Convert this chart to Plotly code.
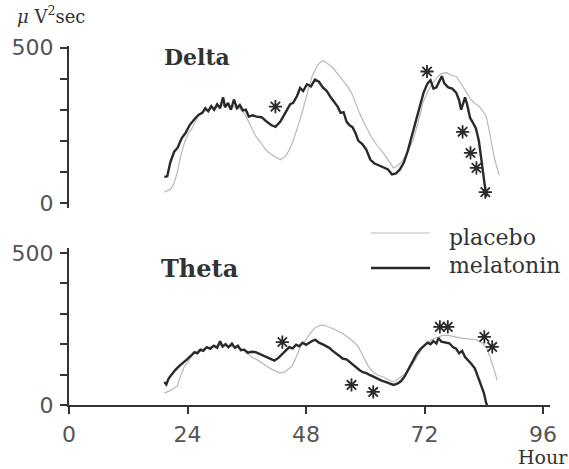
import plotly.graph_objects as go

# ---------------- data ----------------
delta_mel_h = [19.3, 19.9, 20.5, 21.3, 22.0, 22.8, 23.6, 24.4, 25.3, 26.2, 27.0, 27.6, 28.2, 28.8, 29.4, 30.0, 30.6, 31.2, 31.6, 32.2, 32.8, 33.4, 34.0, 34.6, 35.2, 35.8, 36.4, 37.2, 38.0, 39.0, 40.0, 41.0, 41.8, 42.8, 43.8, 44.8, 45.4, 46.2, 46.8, 47.4, 48.2, 49.0, 49.8, 50.6, 51.4, 52.2, 53.0, 53.8, 54.4, 55.0, 55.6, 56.2, 56.8, 57.4, 58.0, 58.6, 59.4, 60.2, 61.0, 61.8, 62.6, 63.6, 64.6, 65.4, 66.2, 67.0, 67.8, 68.6, 69.4, 70.2, 71.0, 71.8, 72.6, 73.2, 73.8, 74.4, 75.0, 75.5, 76.0, 76.8, 77.6, 78.4, 79.0, 79.4, 79.8, 80.2, 80.6, 81.2, 81.8, 82.4, 83.0, 83.6, 84.0, 84.5]
delta_mel_v = [84, 86, 130, 165, 178, 208, 225, 250, 268, 283, 290, 305, 295, 312, 300, 318, 305, 340, 308, 322, 300, 333, 305, 315, 298, 300, 278, 282, 278, 276, 262, 250, 245, 262, 290, 318, 322, 345, 370, 360, 382, 375, 397, 390, 372, 360, 340, 322, 310, 290, 292, 262, 250, 244, 225, 200, 190, 172, 140, 128, 122, 115, 108, 92, 95, 108, 130, 168, 215, 260, 310, 355, 385, 395, 368, 372, 392, 408, 385, 372, 368, 355, 330, 300, 320, 340, 318, 275, 258, 240, 200, 130, 80, 20]

delta_pla_h = [19.3, 19.8, 20.6, 21.2, 21.9, 22.6, 23.4, 24.2, 24.9, 25.6, 26.4, 27.2, 28.2, 29.2, 30.2, 31.2, 32.2, 33.4, 34.6, 35.6, 36.6, 37.8, 38.8, 39.8, 40.8, 41.8, 42.8, 43.8, 44.6, 45.4, 46.2, 47.2, 48.2, 49.2, 50.2, 51.0, 51.6, 52.4, 53.4, 54.4, 55.4, 56.4, 57.2, 58.0, 58.8, 60.0, 61.2, 62.4, 63.7, 64.8, 65.7, 66.6, 67.7, 68.7, 69.7, 70.7, 71.7, 72.7, 73.7, 74.6, 75.4, 76.5, 77.5, 78.5, 79.5, 80.5, 81.3, 82.2, 83.1, 83.8, 84.5, 85.0, 85.5, 86.2, 87.1]
delta_pla_v = [35, 38, 45, 60, 97, 150, 195, 225, 240, 262, 285, 296, 298, 305, 310, 315, 312, 310, 303, 285, 255, 215, 195, 172, 158, 148, 139, 150, 170, 200, 240, 290, 350, 406, 440, 455, 458, 448, 435, 415, 395, 375, 355, 320, 290, 250, 213, 185, 160, 135, 113, 120, 139, 168, 203, 260, 323, 360, 387, 405, 416, 419, 410, 406, 380, 355, 335, 320, 310, 295, 277, 240, 194, 140, 90]

theta_mel_h = [19.3, 19.7, 20.2, 20.7, 21.5, 22.3, 23.1, 23.9, 24.7, 25.4, 26.0, 26.6, 27.2, 27.9, 28.6, 29.3, 30.0, 30.6, 31.1, 31.7, 32.3, 33.0, 33.6, 34.2, 34.8, 35.5, 36.2, 37.0, 37.8, 38.6, 39.4, 40.2, 41.0, 41.6, 42.4, 43.2, 44.0, 44.6, 45.3, 46.0, 46.6, 47.3, 48.0, 48.7, 49.4, 49.9, 50.6, 51.3, 52.0, 52.7, 53.4, 54.1, 54.8, 55.5, 56.2, 56.9, 57.6, 58.3, 58.8, 59.5, 60.2, 61.0, 61.8, 62.5, 63.3, 64.2, 65.0, 65.7, 66.5, 67.2, 68.0, 68.8, 69.6, 70.4, 71.2, 71.9, 72.6, 73.2, 73.8, 74.4, 74.8, 75.4, 76.2, 77.0, 77.8, 78.4, 79.0, 79.6, 80.2, 80.8, 81.5, 82.2, 82.8, 83.4, 84.0, 84.5, 84.7]
theta_mel_v = [76, 68, 88, 99, 115, 128, 138, 150, 162, 174, 170, 182, 178, 190, 185, 195, 188, 210, 192, 200, 190, 202, 188, 195, 180, 182, 172, 175, 174, 168, 162, 155, 150, 146, 155, 168, 180, 190, 186, 198, 193, 205, 198, 205, 212, 214, 205, 200, 195, 188, 178, 170, 162, 152, 150, 140, 132, 122, 115, 108, 105, 98, 92, 85, 80, 75, 70, 66, 70, 78, 95, 118, 145, 168, 185, 195, 205, 200, 210, 202, 220, 208, 205, 203, 190, 185, 170, 178, 158, 148, 135, 120, 95, 70, 40, 5, 0]

theta_pla_h = [19.3, 19.8, 20.6, 21.3, 21.9, 22.6, 23.3, 24.0, 24.8, 25.7, 26.7, 27.8, 29.0, 30.2, 31.4, 32.6, 33.8, 35.0, 36.0, 37.0, 38.0, 39.0, 40.0, 41.0, 42.0, 42.8, 43.6, 44.4, 45.2, 46.2, 47.0, 47.8, 48.8, 49.8, 50.8, 51.6, 52.4, 53.6, 55.2, 56.6, 57.6, 58.6, 59.4, 60.6, 61.6, 62.6, 63.7, 64.7, 65.7, 66.7, 67.6, 68.5, 69.5, 70.5, 71.5, 72.5, 73.5, 74.5, 75.5, 76.5, 77.5, 78.5, 79.5, 80.5, 81.5, 82.5, 83.5, 84.5, 85.2, 85.7, 86.2, 86.7]
theta_pla_v = [39, 42, 48, 55, 62, 95, 125, 140, 160, 175, 183, 188, 192, 195, 196, 194, 190, 183, 170, 158, 150, 138, 128, 118, 110, 105, 108, 118, 128, 165, 195, 210, 235, 253, 262, 263, 258, 250, 237, 222, 208, 191, 165, 128, 108, 98, 92, 82, 76, 88, 98, 108, 132, 158, 185, 204, 215, 222, 228, 230, 226, 222, 220, 218, 216, 214, 205, 191, 160, 138, 110, 82]

delta_star_h = [41.8, 72.5, 79.7, 81.3, 82.5, 84.3]
delta_star_v = [310, 423, 229, 161, 113, 35]
theta_star_h = [43.2, 57.2, 61.6, 75.1, 76.7, 84.1, 85.7]
theta_star_v = [207, 66, 43, 257, 257, 224, 191]

x_ticks = [0, 24, 48, 72, 96]
y_ticks = [0, 100, 200, 300, 400, 500]
y_ticktext = ["0", "", "", "", "", "500"]

# ---------------- figure ----------------
MEL = "#2a2a2a"
PLA = "#b8b8b8"
AX = "#333333"
W, H = 569, 469
L, R, T, B = 63, 17, 46, 64
PW, PH = W - L - R, H - T - B

def px(x):
    return (x - L) / PW

def py(y):
    return (H - B - y) / PH

fig = go.Figure()

def add_panel(xa, ya, ph, pv, mh, mv, sh, sv):
    fig.add_trace(go.Scatter(x=ph, y=pv, mode="lines", name="placebo",
                             line=dict(color=PLA, width=1.2), xaxis=xa, yaxis=ya,
                             showlegend=False))
    fig.add_trace(go.Scatter(x=mh, y=mv, mode="lines", name="melatonin",
                             line=dict(color=MEL, width=2.4), xaxis=xa, yaxis=ya,
                             showlegend=False))
    fig.add_trace(go.Scatter(x=sh, y=sv, mode="markers", name="p<0.05",
                             marker=dict(symbol="asterisk-open", size=11, color=MEL,
                                         line=dict(color=MEL, width=1.8)),
                             xaxis=xa, yaxis=ya, showlegend=False))

add_panel("x2", "y2", delta_pla_h, delta_pla_v, delta_mel_h, delta_mel_v,
          delta_star_h, delta_star_v)
add_panel("x", "y", theta_pla_h, theta_pla_v, theta_mel_h, theta_mel_v,
          theta_star_h, theta_star_v)

tickfont = dict(family="DejaVu Sans", size=22, color="#555555")
yax_common = dict(showline=True, linecolor=AX, linewidth=2, ticks="outside",
                  ticklen=7, tickwidth=1.5, tickcolor=AX, tickvals=y_ticks,
                  ticktext=y_ticktext, showgrid=False, zeroline=False,
                  tickfont=tickfont, ticklabelstandoff=2)

fig.update_layout(
    width=W, height=H,
    margin=dict(l=L, r=R, t=T, b=B),
    paper_bgcolor="white", plot_bgcolor="white",
    showlegend=False,
    xaxis=dict(range=[0, 97.4], anchor="y", showline=True, linecolor=AX,
               linewidth=2, ticks="outside", ticklen=7, tickwidth=1.5,
               tickcolor=AX, tickvals=x_ticks, showgrid=False, zeroline=False,
               tickfont=tickfont, ticklabelstandoff=2),
    xaxis2=dict(range=[0, 97.4], anchor="y2", matches="x", visible=False),
    yaxis=dict(domain=[0, 0.4362], range=[0, 515], anchor="x", **yax_common),
    yaxis2=dict(domain=[0.5487, 1.0], range=[-16, 505], anchor="x2", **yax_common),
)

serif = "DejaVu Serif"
ann = [
    dict(text="<i>μ</i> V<sup>2</sup>sec", x=8, y=15, font=dict(family=serif, size=18, color="#333")),
    dict(text="<b>Delta</b>", x=158, y=57, font=dict(family=serif, size=22, color="#333")),
    dict(text="<b>Theta</b>", x=154, y=268, font=dict(family=serif, size=24, color="#333")),
    dict(text="placebo", x=447, y=238, font=dict(family=serif, size=22, color="#333")),
    dict(text="melatonin", x=447, y=265, font=dict(family=serif, size=22, color="#333")),
    dict(text="Hour", x=517, y=457, font=dict(family=serif, size=19, color="#333")),
]
for a in ann:
    fig.add_annotation(text=a["text"], x=px(a["x"]), y=py(a["y"]),
                       xref="paper", yref="paper", xanchor="left", yanchor="middle",
                       showarrow=False, font=a["font"])

# legend sample lines
fig.add_shape(type="line", xref="paper", yref="paper",
              x0=px(370), x1=px(430), y0=py(233), y1=py(233),
              line=dict(color=PLA, width=1.2))
fig.add_shape(type="line", xref="paper", yref="paper",
              x0=px(370), x1=px(430), y0=py(268), y1=py(268),
              line=dict(color=MEL, width=2.4))

fig.write_html("out.html", config={"displayModeBar": False},
               post_script="document.body.style.margin='0';document.body.style.overflow='hidden';")
